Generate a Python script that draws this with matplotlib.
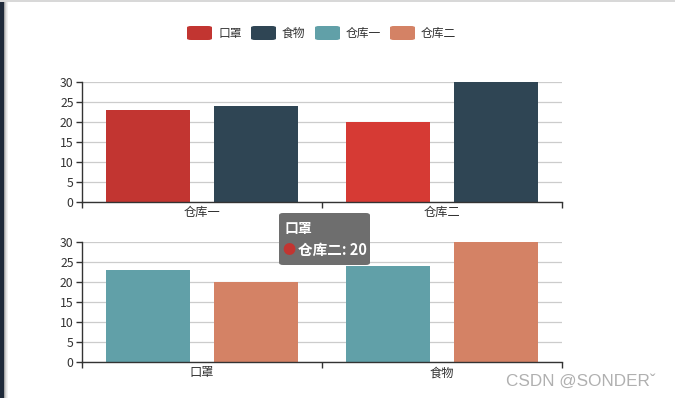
import numpy as np
import matplotlib.pyplot as plt
from matplotlib.patches import FancyBboxPatch, Rectangle

plt.rcParams['font.family'] = ['Noto Sans CJK SC', 'DejaVu Sans']

# dataset
series_names = ['口罩', '食物', '仓库一', '仓库二']
warehouses = ['仓库一', '仓库二']
goods = ['口罩', '食物']
mask_vals = [23, 20]      # 口罩 in 仓库一 / 仓库二
food_vals = [24, 30]      # 食物 in 仓库一 / 仓库二
wh1_vals = [23, 24]       # 仓库一 for 口罩 / 食物
wh2_vals = [20, 30]       # 仓库二 for 口罩 / 食物
yticks = [0, 5, 10, 15, 20, 25, 30]

colors = ['#c23531', '#2f4554', '#61a0a8', '#d48265']
hover_red = '#d63a34'

W, H = 675, 398
fig = plt.figure(figsize=(W / 100, H / 100), dpi=100)
fig.patch.set_facecolor('white')


def fx(x):
    return x / W


def fy(y):
    return 1 - y / H


def make_axes(top, bottom, left=82, right=562):
    return fig.add_axes([fx(left), fy(bottom), (right - left) / W, (bottom - top) / H])


def style_axes(ax, labels):
    ax.set_xlim(-0.5, len(labels) - 0.5)
    ax.set_ylim(0, 30)
    ax.set_yticks(yticks)
    ax.set_yticklabels([str(v) for v in yticks], fontsize=8.8, color='#333333')
    ax.yaxis.grid(True, color='#cccccc', linewidth=0.9)
    ax.set_axisbelow(True)
    for s in ['top', 'right']:
        ax.spines[s].set_visible(False)
    for s in ['left', 'bottom']:
        ax.spines[s].set_color('#333333')
        ax.spines[s].set_linewidth(1)
    ax.tick_params(axis='y', length=4, width=1, color='#333333', pad=2)
    # category boundary ticks, labels at centres
    ax.set_xticks(np.arange(len(labels) + 1) - 0.5)
    ax.set_xticklabels([])
    ax.set_xticks(np.arange(len(labels)), minor=True)
    ax.set_xticklabels(labels, minor=True, fontsize=8.8, color='#333333')
    ax.tick_params(axis='x', which='major', length=4, width=1, color='#333333')
    ax.tick_params(axis='x', which='minor', length=0, pad=3)


bw = 0.346
off = 0.225
x = np.arange(2)

# top chart: categories = warehouses, series = goods
ax1 = make_axes(82, 202)
ax1.bar(x - off, mask_vals, width=bw, color=[colors[0], hover_red])
ax1.bar(x + off, food_vals, width=bw, color=colors[1])
style_axes(ax1, warehouses)

# bottom chart: categories = goods, series = warehouses
ax2 = make_axes(242, 362)
ax2.bar(x - off, wh1_vals, width=bw, color=colors[2])
ax2.bar(x + off, wh2_vals, width=bw, color=colors[3])
style_axes(ax2, goods)

# legend
legend_x = [187, 251, 315, 390]
for name, c, lx in zip(series_names, colors, legend_x):
    fig.patches.append(FancyBboxPatch((fx(lx), fy(40)), 25 / W, 14 / H,
                                      boxstyle='round,pad=0,rounding_size=0.006',
                                      transform=fig.transFigure, facecolor=c,
                                      edgecolor='none', mutation_aspect=H / W))
    fig.text(fx(lx + 31), fy(33), name, fontsize=8.5, color='#333333',
             ha='left', va='center')

# tooltip
fig.patches.append(FancyBboxPatch((fx(279), fy(265)), 91 / W, 52 / H,
                                  boxstyle='round,pad=0,rounding_size=0.006',
                                  transform=fig.transFigure, facecolor='#6e6e6e',
                                  edgecolor='none', zorder=10))
fig.text(fx(284), fy(229), '口罩', fontsize=10, color='white', fontweight='bold',
         ha='left', va='center', zorder=11)
fig.text(fx(282), fy(250), '●', fontsize=9.5, color=colors[0],
         ha='left', va='center', zorder=11)
fig.text(fx(298), fy(250), '仓库二: 20', fontsize=10.5, color='white', fontweight='bold',
         ha='left', va='center', zorder=11)

# window chrome: dark left edge, gray top line
fig.patches.append(Rectangle((0, 0), 4 / W, 1, transform=fig.transFigure,
                             facecolor='#1f2a3a', edgecolor='none'))
for i, a in enumerate([0.35, 0.2, 0.1, 0.05]):
    fig.patches.append(Rectangle(((4 + i) / W, 0), 1 / W, 1, transform=fig.transFigure,
                                 facecolor='black', alpha=a, edgecolor='none'))
fig.patches.append(Rectangle((0, fy(2)), 1, 2 / H, transform=fig.transFigure,
                             facecolor='#d8d8d8', edgecolor='none'))

# watermark
fig.text(fx(506), fy(381), 'CSDN @SONDERˇ', fontsize=12.3, color='#b0b0b0',
         ha='left', va='center', family=['Liberation Sans', 'DejaVu Sans'])

plt.savefig('out.png', dpi=100)
